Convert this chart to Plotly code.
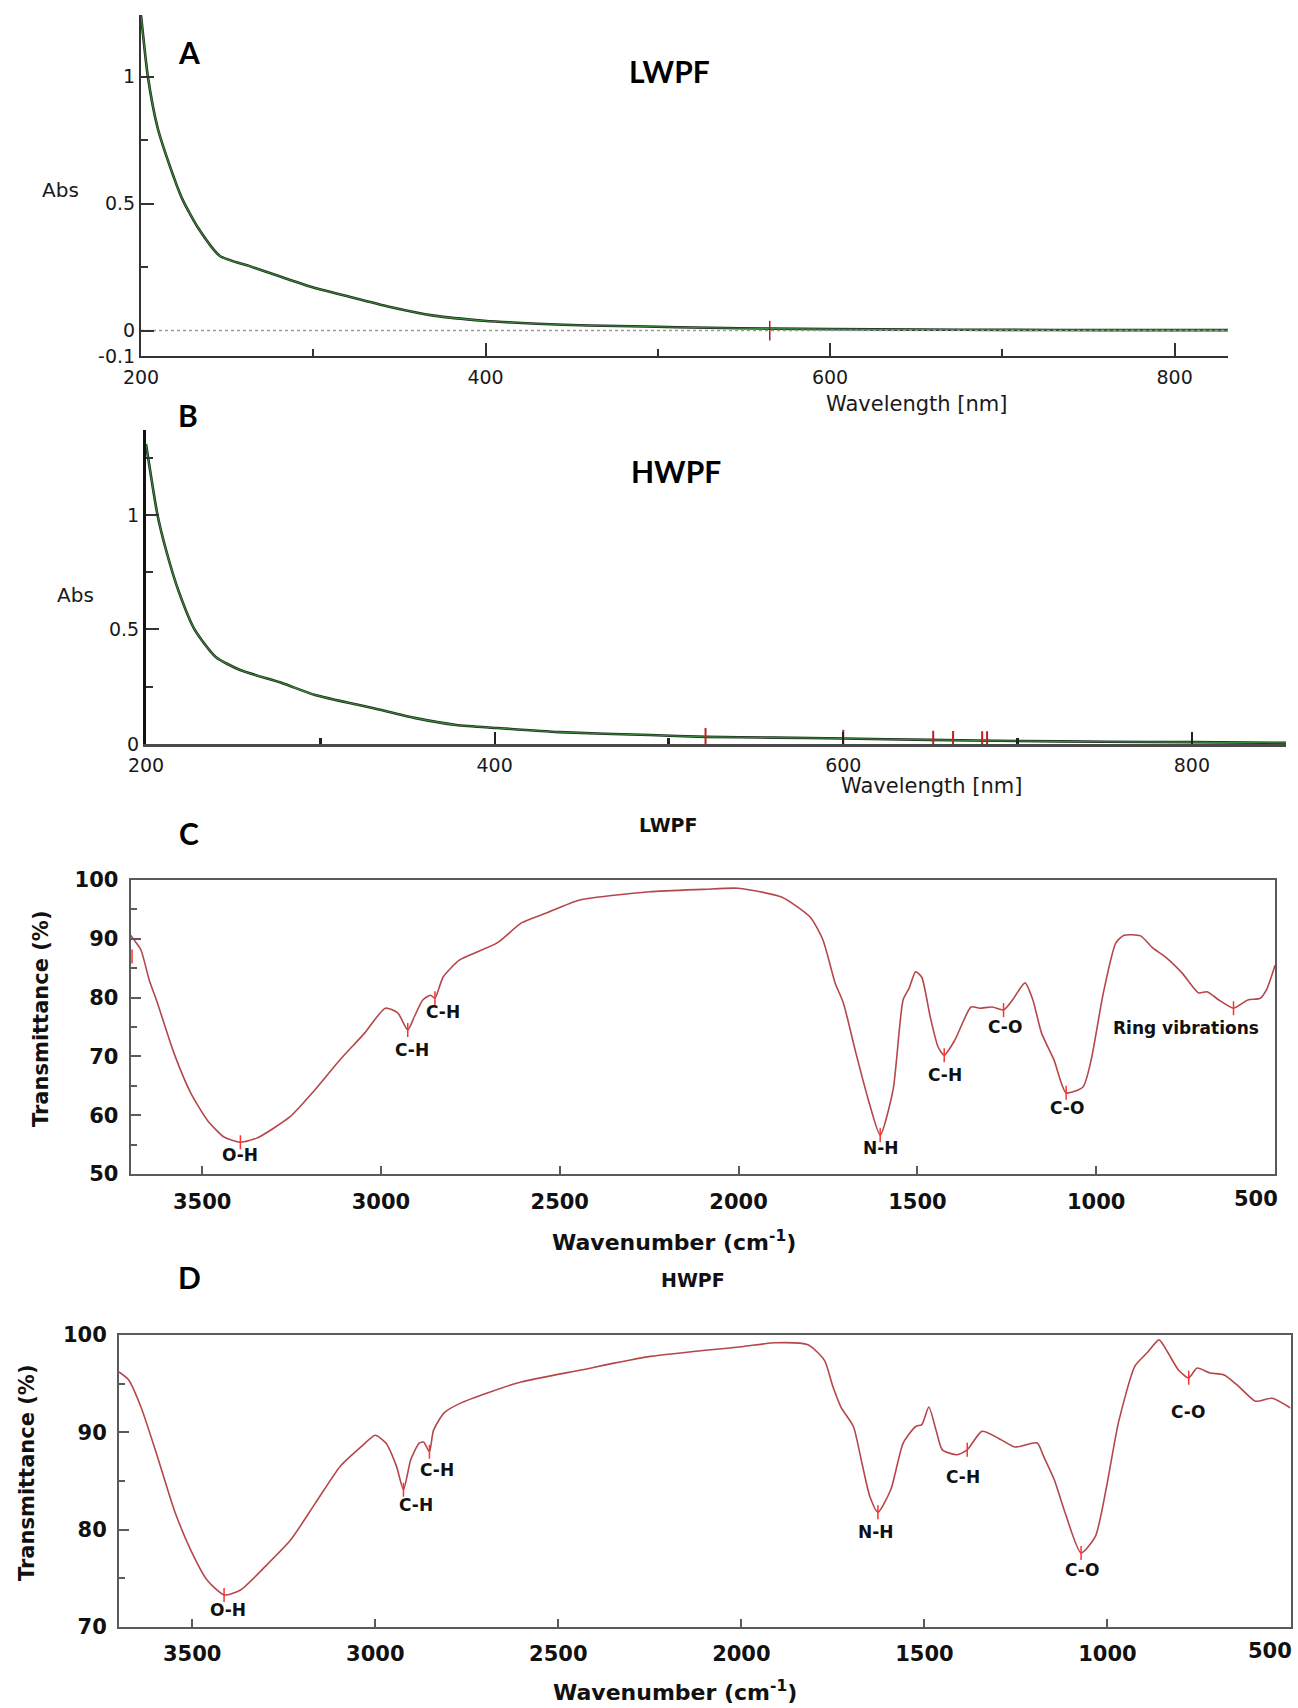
import plotly.graph_objects as go

W, H = 1298, 1708

# ---------------- DATA ----------------
# Panel A : UV-Vis spectrum, LWPF
uv_lwpf_wl = [200, 204, 209.6, 216.8, 224, 233.6, 245.8, 262.6, 280, 298.6, 320, 344, 370, 399, 430, 460, 493, 530, 565, 600, 650, 700, 760, 831]
uv_lwpf_abs = [1.243, 1.0, 0.80, 0.647, 0.518, 0.40, 0.294, 0.255, 0.215, 0.173, 0.135, 0.094, 0.059, 0.039, 0.027, 0.020, 0.016, 0.011, 0.008, 0.006, 0.004, 0.003, 0.002, 0.002]
uv_lwpf_mark_wl = [565]
uv_lwpf_mark_abs = [0.0]

# Panel B : UV-Vis spectrum, HWPF
uv_hwpf_wl = [200, 206.6, 211.5, 218.5, 228, 240, 254, 278, 297, 330, 354, 378, 401, 437, 489, 521, 560, 600, 650, 700, 750, 800, 854]
uv_hwpf_abs = [1.31, 1.0, 0.847, 0.672, 0.498, 0.38, 0.323, 0.266, 0.214, 0.157, 0.114, 0.083, 0.07, 0.052, 0.039, 0.031, 0.028, 0.024, 0.018, 0.013, 0.010, 0.008, 0.005]
uv_hwpf_mark_wl = [521, 600, 651.6, 663, 679.7, 682.5]
uv_hwpf_mark_abs = [0.030, 0.022, 0.018, 0.017, 0.016, 0.016]

# Panel C : FTIR spectrum, LWPF
ir_lwpf_wn = [3700, 3690, 3671, 3648, 3625, 3579, 3532, 3486, 3439, 3393, 3347, 3255, 3185, 3115, 3045,
              2988, 2953, 2925, 2907, 2883, 2861, 2849, 2826, 2780, 2675, 2607, 2537, 2444, 2249, 2100,
              2001, 1880, 1800, 1764, 1730, 1707, 1672, 1637, 1604, 1568, 1540, 1523, 1505, 1488, 1464,
              1442, 1425, 1395, 1350, 1326, 1291, 1259, 1234, 1199, 1177, 1153, 1118, 1084, 1037, 1014,
              980, 945, 922, 876, 841, 806, 760, 714, 690, 657, 616, 576, 541, 524, 504, 500]
ir_lwpf_t = [90.6, 89.8, 88.1, 83, 79.1, 70.6, 63.8, 59.2, 56.3, 55.4, 56.1, 59.7, 64.3, 69.4, 74,
             78.2, 77.4, 74.5, 76.7, 79.6, 80.4, 79.9, 83.5, 86.4, 89.3, 92.7, 94.4, 96.6, 98, 98.4,
             98.6, 97.1, 93.7, 89.8, 82.5, 79.1, 70.6, 62.6, 56.6, 64.3, 79.6, 81.6, 84.4, 83.5, 76.7,
             71.6, 70.2, 72.8, 78.4, 78.2, 78.4, 77.9, 79.6, 82.5, 79.6, 74, 69.4, 63.8, 64.8, 69.4,
             80.8, 89.3, 90.6, 90.5, 88.4, 86.9, 84.2, 80.8, 81, 79.6, 78.2, 79.6, 79.9, 81.3, 84.7, 85.5]
ir_lwpf_peak_wn = [3696, 3393, 2925, 2849, 1604, 1425, 1259, 1084, 616]
ir_lwpf_peak_t = [87.0, 55.4, 74.5, 79.9, 56.6, 70.2, 77.9, 63.8, 78.2]
ir_lwpf_labels = ["O-H", "C-H", "C-H", "N-H", "C-H", "C-O", "C-O", "Ring vibrations"]
ir_lwpf_label_wn = [3393, 2913, 2827, 1603, 1423, 1256, 1082, 749]
ir_lwpf_label_t = [53.2, 71.1, 77.6, 54.4, 66.8, 75.0, 61.2, 74.8]

# Panel D : FTIR spectrum, HWPF
ir_hwpf_wn = [3700, 3674, 3640, 3595, 3549, 3504, 3459, 3413, 3368, 3301, 3232, 3164, 3096, 3039, 3000,
              2971, 2942, 2923, 2903, 2880, 2868, 2852, 2841, 2812, 2767, 2609, 2439, 2248, 1999, 1908,
              1818, 1773, 1750, 1728, 1694, 1671, 1649, 1627, 1592, 1558, 1524, 1507, 1488, 1468, 1451,
              1411, 1383, 1343, 1298, 1253, 1192, 1174, 1145, 1118, 1072, 1033, 1004, 970, 925, 891,
              859, 835, 806, 778, 755, 720, 681, 641, 596, 550, 500]
ir_hwpf_t = [96.2, 95.4, 92.6, 87.5, 82, 77.9, 74.8, 73.3, 73.8, 76.2, 78.9, 82.7, 86.5, 88.5, 89.7,
             88.9, 86.5, 84.1, 87.2, 88.9, 89, 88, 90.2, 92, 93, 95.1, 96.4, 97.8, 98.8, 99.2,
             99, 97.4, 94.7, 92.6, 90.6, 86.9, 83.4, 81.8, 84.1, 88.9, 90.6, 90.8, 92.6, 90.2, 88.2,
             87.7, 88.2, 90.1, 89.4, 88.5, 88.9, 87.5, 85.1, 82, 77.6, 79.3, 84.1, 91, 96.8, 98.2,
             99.5, 98.2, 96.4, 95.6, 96.6, 96.1, 95.9, 94.7, 93.2, 93.5, 92.5]
ir_hwpf_peak_wn = [3413, 2923, 2852, 1627, 1383, 1072, 778]
ir_hwpf_peak_t = [73.3, 84.1, 88.0, 81.8, 88.2, 77.6, 95.6]
ir_hwpf_labels = ["O-H", "C-H", "C-H", "N-H", "C-H", "C-O", "C-O"]
ir_hwpf_label_wn = [3402, 2888, 2832, 1632, 1394, 1069, 779]
ir_hwpf_label_t = [71.7, 82.5, 86.1, 79.8, 85.4, 75.9, 92.1]

uv_x_ticks = [200, 400, 600, 800]
uv_x_minor = [300, 500, 700]
ir_x_ticks = [3500, 3000, 2500, 2000, 1500, 1000, 500]

# ---------------- STYLE / LAYOUT ----------------
def fx(p):
    return p / W

def fy(p):
    return 1 - p / H

IR_RED = "#b5474a"
UV_GREEN = "#3c8a3c"
UV_FONT = dict(family="DejaVu Sans", size=19, color="#1a1a1a")
IR_TICK_FONT = dict(family="DejaVu Sans", size=21, color="#111111", weight="bold")
LBL_FONT = dict(family="DejaVu Sans", size=17, color="#111111", weight="bold")
LETTER_FONT = dict(family="Lato", size=30, color="#000000", weight="bold")

fig = go.Figure()

# UV curves (black under-stroke + green core)
for wl, ab, xa, ya in [(uv_lwpf_wl, uv_lwpf_abs, "x", "y"), (uv_hwpf_wl, uv_hwpf_abs, "x2", "y2")]:
    fig.add_trace(go.Scatter(x=wl, y=ab, xaxis=xa, yaxis=ya, mode="lines",
                             line=dict(color="#1b2a1b", width=2.6, shape="spline", smoothing=0.6),
                             showlegend=False, hoverinfo="skip"))
    fig.add_trace(go.Scatter(x=wl, y=ab, xaxis=xa, yaxis=ya, mode="lines",
                             line=dict(color=UV_GREEN, width=1.1, shape="spline", smoothing=0.6),
                             showlegend=False))

# dotted baseline at zero in A
fig.add_trace(go.Scatter(x=[200, 831], y=[0, 0], xaxis="x", yaxis="y", mode="lines",
                         line=dict(color="#9a9a9a", width=1.5, dash="dot"), showlegend=False, hoverinfo="skip"))

# UV markers
fig.add_trace(go.Scatter(x=uv_lwpf_mark_wl, y=uv_lwpf_mark_abs, xaxis="x", yaxis="y", mode="markers",
                         marker=dict(symbol="line-ns", size=14, line=dict(color="#b02020", width=1.5)),
                         showlegend=False))
fig.add_trace(go.Scatter(x=uv_hwpf_mark_wl, y=uv_hwpf_mark_abs, xaxis="x2", yaxis="y2", mode="markers",
                         marker=dict(symbol="line-ns", size=13, line=dict(color="#c02020", width=2)),
                         showlegend=False))

# IR curves
for wn, t, xa, ya in [(ir_lwpf_wn, ir_lwpf_t, "x3", "y3"), (ir_hwpf_wn, ir_hwpf_t, "x4", "y4")]:
    fig.add_trace(go.Scatter(x=wn, y=t, xaxis=xa, yaxis=ya, mode="lines",
                             line=dict(color=IR_RED, width=1.6, shape="spline", smoothing=0.6),
                             showlegend=False))

# IR peak markers
for wn, t, xa, ya in [(ir_lwpf_peak_wn, ir_lwpf_peak_t, "x3", "y3"), (ir_hwpf_peak_wn, ir_hwpf_peak_t, "x4", "y4")]:
    fig.add_trace(go.Scatter(x=wn, y=t, xaxis=xa, yaxis=ya, mode="markers",
                             marker=dict(symbol="line-ns", size=10, line=dict(color="#ff3030", width=1.5)),
                             showlegend=False))

annotations = []
for labels, lx, ly, xa, ya in [(ir_lwpf_labels, ir_lwpf_label_wn, ir_lwpf_label_t, "x3", "y3"),
                               (ir_hwpf_labels, ir_hwpf_label_wn, ir_hwpf_label_t, "x4", "y4")]:
    for txt, x, y in zip(labels, lx, ly):
        annotations.append(dict(text=txt, x=x, y=y, xref=xa, yref=ya, showarrow=False,
                                xanchor="center", yanchor="middle", font=LBL_FONT))

def pann(text, x, y, font, angle=0):
    annotations.append(dict(text=text, x=fx(x), y=fy(y), xref="paper", yref="paper", showarrow=False,
                            xanchor="center", yanchor="middle", font=font, textangle=angle))

pann("A", 189, 52, LETTER_FONT)
pann("LWPF", 669, 71, LETTER_FONT)
pann("Abs", 60, 190, dict(UV_FONT, size=20))
pann("Wavelength [nm]", 916, 404, dict(UV_FONT, size=21))
pann("B", 188, 415, LETTER_FONT)
pann("HWPF", 676, 471, LETTER_FONT)
pann("Abs", 75, 595, dict(UV_FONT, size=20))
pann("Wavelength [nm]", 931, 786, dict(UV_FONT, size=21))
pann("C", 189, 833, LETTER_FONT)
pann("LWPF", 668, 825, dict(LBL_FONT, size=19))
pann("Transmittance (%)", 41, 1019, dict(IR_TICK_FONT, size=21), angle=-90)
pann("Wavenumber (cm<sup>-1</sup>)", 674, 1241, dict(IR_TICK_FONT, size=22))
pann("500", 1256, 1199, IR_TICK_FONT)
pann("D", 189, 1277, LETTER_FONT)
pann("HWPF", 693, 1280, dict(LBL_FONT, size=19))
pann("Transmittance (%)", 27, 1473, dict(IR_TICK_FONT, size=21), angle=-90)
pann("Wavenumber (cm<sup>-1</sup>)", 675, 1691, dict(IR_TICK_FONT, size=22))
pann("500", 1270, 1651, IR_TICK_FONT)

uv_common = dict(showgrid=False, zeroline=False, showline=True, ticks="inside", tickwidth=2,
                 tickfont=UV_FONT, automargin=False)
ir_common = dict(showgrid=False, zeroline=False, showline=True, mirror=True, ticks="inside",
                 linecolor="#5a5a5a", linewidth=2, tickcolor="#5a5a5a", tickwidth=2, tickfont=IR_TICK_FONT,
                 automargin=False)

ir_xtext = [str(v) for v in ir_x_ticks[:-1]] + [""]

fig.update_layout(
    width=W, height=H, margin=dict(l=0, r=0, t=0, b=0, pad=0, autoexpand=False),
    paper_bgcolor="white", plot_bgcolor="white", showlegend=False,
    annotations=annotations,
    xaxis=dict(uv_common, domain=[fx(141), fx(1228)], range=[200, 831], anchor="y",
               tickvals=uv_x_ticks, ticklen=13, linecolor="#333333", linewidth=2, tickcolor="#333333",
               ticklabelstandoff=3,
               minor=dict(tickvals=uv_x_minor, ticks="inside", ticklen=7, tickwidth=2, tickcolor="#333333")),
    yaxis=dict(uv_common, domain=[fy(356), fy(15)], range=[-0.1, 1.243], anchor="x",
               tickvals=[-0.1, 0, 0.5, 1], ticktext=["-0.1", "0", "0.5", "1"], ticklen=13,
               linecolor="#333333", linewidth=2, tickcolor="#333333",
               minor=dict(tickvals=[0.25, 0.75], ticks="inside", ticklen=7, tickwidth=2, tickcolor="#333333")),
    xaxis2=dict(uv_common, domain=[fx(146), fx(1286)], range=[200, 854], anchor="y2",
                tickvals=uv_x_ticks, ticklen=12, linecolor="#4a4a4a", linewidth=3, tickcolor="#222222",
                ticklabelstandoff=2,
                minor=dict(tickvals=uv_x_minor, ticks="inside", ticklen=6, tickwidth=3, tickcolor="#222222")),
    yaxis2=dict(uv_common, domain=[fy(744), fy(430)], range=[0, 1.371], anchor="x2",
                tickvals=[0, 0.5, 1], ticktext=["0", "0.5", "1"], ticklen=13,
                linecolor="#111111", linewidth=3, tickcolor="#333333",
                minor=dict(tickvals=[0.25, 0.75, 1.25], ticks="inside", ticklen=7, tickwidth=2, tickcolor="#333333")),
    xaxis3=dict(ir_common, domain=[fx(130.6), fx(1275)], range=[3700, 500], anchor="y3",
                tickvals=ir_x_ticks, ticktext=ir_xtext, ticklen=8, ticklabelstandoff=8),
    yaxis3=dict(ir_common, domain=[fy(1174), fy(880)], range=[50, 100], anchor="x3",
                tickvals=[50, 60, 70, 80, 90, 100], ticklen=10, ticklabelstandoff=6,
                minor=dict(tickvals=[55, 65, 75, 85, 95], ticks="inside", ticklen=6, tickwidth=2, tickcolor="#5a5a5a")),
    xaxis4=dict(ir_common, domain=[fx(119), fx(1290.5)], range=[3700, 500], anchor="y4",
                tickvals=ir_x_ticks, ticktext=ir_xtext, ticklen=8, ticklabelstandoff=7),
    yaxis4=dict(ir_common, domain=[fy(1627), fy(1335)], range=[70, 100], anchor="x4",
                tickvals=[70, 80, 90, 100], ticklen=10, ticklabelstandoff=6,
                minor=dict(tickvals=[75, 85, 95], ticks="inside", ticklen=6, tickwidth=2, tickcolor="#5a5a5a")),
)

fig.write_html("out.html")
